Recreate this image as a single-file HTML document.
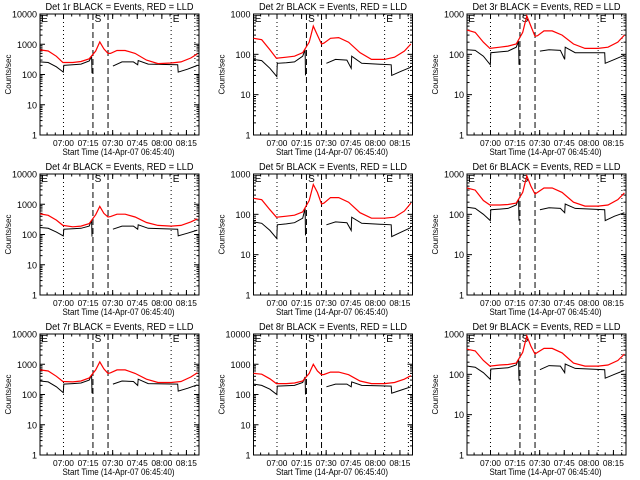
<!DOCTYPE html>
<html><head><meta charset="utf-8"><style>
html,body{margin:0;padding:0;background:#fff;}
svg{display:block;}
text{font-family:"Liberation Sans",sans-serif;fill:#000;}
</style></head><body>
<svg id="chart" width="640" height="480" viewBox="0 0 640 480" xmlns="http://www.w3.org/2000/svg">
<rect x="0" y="0" width="640" height="480" fill="#fff"/>
</svg>
<script>
// time in minutes since 06:45:40
const redTimes   = [0,5,10,14,20,25,30,34,36.5,39,41.5,43,47,52,58,65,72,80,86,92,96];
const blackTimes = [0,5,10,14.2,14.5,20,25,30,31.5,31.7,38,44.5,50,57,59.6,59.9,66,84,84.3,90,96];
const tickTimes  = [14.33,29.33,44.33,59.33,74.33,89.33];
const tickLabels = ["07:00","07:15","07:30","07:45","08:00","08:15"];
const markerTimes = [14.33,32.3,41.5,80,94.5];
const detectorNames = ["1r","2r","3r","4r","5r","6r","7r","8r","9r"];
const yMaxDecades = [4,3,3,4,3,3,4,4,3];

const red1 = [650,600,400,250,250,270,330,600,1200,700,500,500,620,620,500,300,230,240,260,350,480];
const blk1 = [260,250,180,120,200,210,220,280,400,110,null,190,260,260,210,290,220,210,120,150,200];
const red2 = [250,230,130,80,85,90,110,200,500,300,180,190,250,260,200,110,75,75,85,120,180];
const blk2 = [75,70,45,28,60,62,65,90,130,30,null,60,75,72,45,90,60,55,30,38,48];
const red3 = [400,350,200,140,150,160,180,350,900,500,280,290,380,380,300,180,140,140,150,200,300];
const blk3 = [130,125,90,55,110,115,120,150,210,55,null,120,130,125,75,150,110,110,60,75,95];
const red4 = [480,430,300,200,180,190,230,450,850,500,380,390,470,470,380,250,200,190,200,260,330];
const blk4 = [170,160,120,90,150,155,160,190,300,85,null,150,190,190,150,210,160,150,90,110,140];
const red5 = [250,230,130,85,90,95,115,220,550,350,180,190,260,260,200,110,80,80,85,120,190];
const blk5 = [65,60,40,25,55,58,62,80,140,30,null,55,65,62,40,85,60,55,28,36,47];
const red6 = [450,400,220,170,170,175,190,350,900,500,320,350,450,450,350,200,160,160,170,230,340];
const blk6 = [150,140,100,70,130,135,140,170,240,70,null,130,145,140,110,180,140,130,70,90,110];
const red7 = [650,600,400,270,260,280,350,650,1200,700,500,520,650,650,500,320,250,250,270,380,520];
const blk7 = [280,260,180,115,220,230,240,300,450,110,null,220,280,270,200,320,230,220,130,160,210];
const red8 = [500,470,330,230,230,240,280,500,1000,600,450,460,550,550,450,280,230,230,250,320,420];
const blk8 = [220,200,150,100,190,195,200,250,380,100,null,180,220,220,180,260,200,190,110,140,180];
const red9 = [420,380,220,160,170,175,190,350,900,500,320,350,440,440,340,190,160,160,170,220,320];
const blk9 = [160,150,110,75,135,140,145,170,240,70,null,130,165,160,110,180,140,130,80,100,125];
const redSeries = [red1,red2,red3,red4,red5,red6,red7,red8,red9];
const blackSeries = [blk1,blk2,blk3,blk4,blk5,blk6,blk7,blk8,blk9];

const NS = "http://www.w3.org/2000/svg";
const svg = document.getElementById("chart");
function mk(tag, attrs, parent){
  const e = document.createElementNS(NS, tag);
  for (const k in attrs) e.setAttribute(k, attrs[k]);
  parent.appendChild(e);
  return e;
}
const PW = 159, PH = 121, TMAX = 97;
for (let p = 0; p < 9; p++) {
  const col = p % 3, row = Math.floor(p / 3);
  const x0 = 40 + col * 213.5, y0 = 14 + row * 160;
  const g = mk("g", {}, svg);
  
  
  const dec = yMaxDecades[p];
  const xs = t => x0 + t / TMAX * PW;
  const ys = v => y0 + PH - Math.log10(v) / dec * PH;

  const title = mk("text", {x: x0 + PW/2, y: y0 - 4, "text-anchor":"middle", "font-size":"10", textLength:"148", lengthAdjust:"spacingAndGlyphs"}, g);
  title.textContent = "Det " + detectorNames[p] + " BLACK = Events, RED = LLD";
  
  

  markerTimes.forEach((t, i) => {
    const dashed = (i === 1 || i === 2);
    const l = mk("line", {x1: xs(t), x2: xs(t), y1: y0, y2: y0 + PH, stroke:"#000", "stroke-width":"1", "stroke-dasharray": dashed ? "6,3" : "1,3"}, g);
    
    
  });
  [[0.8,"E"],[markerTimes[1]+1,"S"],[markerTimes[3]+1,"E"]].forEach(m => {
    const tx = mk("text", {x: xs(m[0]), y: y0 + 8, "font-size":"10", "font-weight":"normal"}, g);
    tx.textContent = m[1];
    
    
  });

  const box = mk("rect", {x: x0, y: y0, width: PW, height: PH, fill:"none", stroke:"#000", "stroke-width":"1"}, g);
  
  

  for (let d = 0; d <= dec; d++) {
    const y = ys(Math.pow(10, d));
    mk("line", {x1:x0, x2:x0+5, y1:y, y2:y, stroke:"#000"}, g);
    mk("line", {x1:x0+PW-5, x2:x0+PW, y1:y, y2:y, stroke:"#000"}, g);
    const lb = mk("text", {x: x0 - 3, y: y + 3.5, "text-anchor":"end", "font-size":"9"}, g);
    lb.textContent = String(Math.pow(10, d));
    
    
    if (d < dec) for (let m = 2; m < 10; m++) {
      const ym = ys(m * Math.pow(10, d));
      mk("line", {x1:x0, x2:x0+2.5, y1:ym, y2:ym, stroke:"#000"}, g);
      mk("line", {x1:x0+PW-2.5, x2:x0+PW, y1:ym, y2:ym, stroke:"#000"}, g);
    }
  }
  tickTimes.forEach((t, i) => {
    const x = xs(t);
    mk("line", {x1:x, x2:x, y1:y0+PH, y2:y0+PH-5, stroke:"#000"}, g);
    mk("line", {x1:x, x2:x, y1:y0, y2:y0+5, stroke:"#000"}, g);
    const lb = mk("text", {x: x, y: y0 + PH + 11, "text-anchor":"middle", "font-size":"8.5", textLength:"21", lengthAdjust:"spacingAndGlyphs"}, g);
    lb.textContent = tickLabels[i];
    
    
  });
  for (let t = tickTimes[0] - 10; t < TMAX; t += 5) {
    if (t < 0) continue;
    const x = xs(t);
    mk("line", {x1:x, x2:x, y1:y0+PH, y2:y0+PH-2.5, stroke:"#000"}, g);
    mk("line", {x1:x, x2:x, y1:y0, y2:y0+2.5, stroke:"#000"}, g);
  }
  const xt = mk("text", {x: x0 + PW/2 - 1, y: y0 + PH + 20, "text-anchor":"middle", "font-size":"9.5", textLength:"112", lengthAdjust:"spacingAndGlyphs"}, g);
  xt.textContent = "Start Time (14-Apr-07 06:45:40)";
  
  
  const yt = mk("text", {x: 0, y: 0, "text-anchor":"middle", "font-size":"8", transform:"translate(" + (x0 - 29) + "," + (y0 + PH/2) + ") rotate(-90)"}, g);
  yt.textContent = "Counts/sec";
  
  

  function pathFrom(times, vals){
    let d = "", pen = false;
    for (let i = 0; i < times.length; i++) {
      const v = vals[i];
      if (v == null) { pen = false; continue; }
      d += (pen ? "L" : "M") + xs(times[i]).toFixed(1) + "," + ys(v).toFixed(1);
      pen = true;
    }
    return d;
  }
  const bl = mk("path", {d: pathFrom(blackTimes, blackSeries[p]), fill:"none", stroke:"#000", "stroke-width":"1"}, g);
  
  
  const rl = mk("path", {d: pathFrom(redTimes, redSeries[p]), fill:"none", stroke:"#ff0000", "stroke-width":"1.2"}, g);
  
  
}
</script>
</body></html>
